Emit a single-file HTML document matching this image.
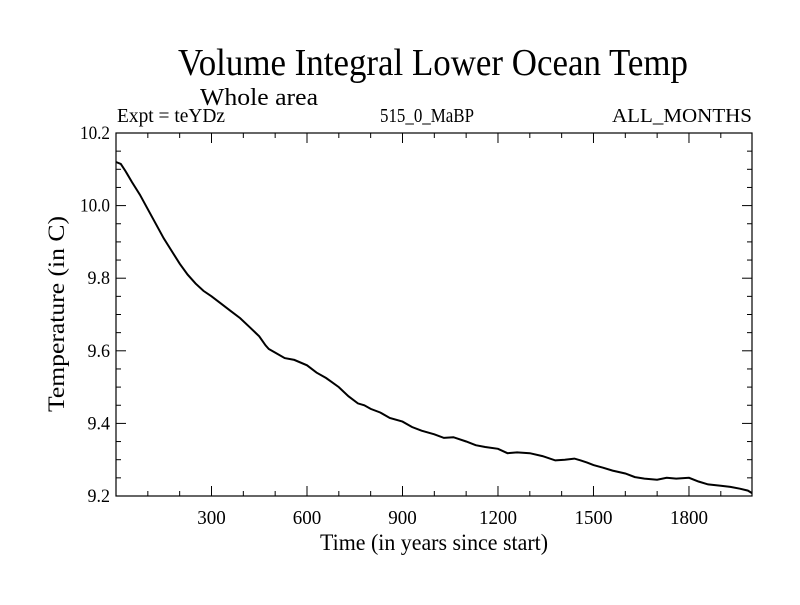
<!DOCTYPE html>
<html><head><meta charset="utf-8"><style>
html,body{margin:0;padding:0;background:#fff;}
svg text{font-family:"Liberation Serif",serif;fill:#000;}
</style></head><body>
<svg id="c" width="800" height="600">
<text x="178" y="75" font-size="38" textLength="510" lengthAdjust="spacingAndGlyphs">Volume Integral Lower Ocean Temp</text>
<text x="200" y="105" font-size="24" textLength="118" lengthAdjust="spacingAndGlyphs">Whole area</text>
<text x="117" y="122" font-size="20" textLength="108" lengthAdjust="spacingAndGlyphs">Expt = teYDz</text>
<text x="380" y="122" font-size="20" textLength="94" lengthAdjust="spacingAndGlyphs">515_0_MaBP</text>
<text x="612" y="122" font-size="20" textLength="140" lengthAdjust="spacingAndGlyphs">ALL_MONTHS</text>
<text x="434" y="550" font-size="23" text-anchor="middle" textLength="228" lengthAdjust="spacingAndGlyphs">Time (in years since start)</text>
<text transform="translate(64,314) rotate(-90)" font-size="23" text-anchor="middle" textLength="196" lengthAdjust="spacingAndGlyphs">Temperature (in C)</text>
<rect x="116" y="133" width="636" height="363" fill="none" stroke="#000" stroke-width="1.2"/>
<g id="ticks"></g>
<path id="line" fill="none" stroke="#000" stroke-width="2"/>
</svg>
<script>
const years=[0,15,30,50,75,100,125,150,175,200,225,250,275,300,330,360,390,420,450,470,480,500,530,560,600,630,660,700,730,760,780,800,830,860,900,930,960,1000,1030,1060,1100,1130,1160,1200,1230,1260,1300,1340,1380,1410,1440,1460,1480,1500,1530,1560,1600,1630,1660,1700,1730,1760,1800,1830,1860,1900,1930,1960,1985,1998];
const temps=[10.12,10.115,10.095,10.065,10.03,9.99,9.95,9.91,9.875,9.84,9.81,9.785,9.765,9.75,9.73,9.71,9.69,9.665,9.64,9.615,9.605,9.595,9.58,9.575,9.56,9.54,9.525,9.5,9.475,9.455,9.45,9.44,9.43,9.415,9.405,9.39,9.38,9.37,9.36,9.362,9.35,9.34,9.335,9.33,9.318,9.32,9.318,9.31,9.298,9.3,9.303,9.298,9.292,9.285,9.278,9.27,9.262,9.252,9.248,9.245,9.25,9.248,9.25,9.24,9.232,9.228,9.225,9.22,9.215,9.208];
const xTicks=[300,600,900,1200,1500,1800];
const yTicks=[9.2,9.4,9.6,9.8,10.0,10.2];
const X=v=>116+(v-0)/1998*636;
const Y=v=>496-(v-9.2)/1.0*363;
const NS='http://www.w3.org/2000/svg';
const svg=document.getElementById('c');const tg=document.getElementById('ticks');
function line(x1,y1,x2,y2){const l=document.createElementNS(NS,'line');l.setAttribute('x1',x1);l.setAttribute('y1',y1);l.setAttribute('x2',x2);l.setAttribute('y2',y2);l.setAttribute('stroke','#000');l.setAttribute('stroke-width','1');


tg.appendChild(l);}
for(let v=100;v<1998;v+=100){const x=X(v);const len=v%300===0?10:5;line(x,496,x,496-len);line(x,133,x,133+len);}
for(let v=9.2;v<=10.201;v+=0.05){const y=Y(v);const major=Math.abs(v*10-Math.round(v*10))<1e-6&&Math.round(v*10)%2===0;const len=major?10:5;line(116,y,116+len,y);line(752,y,752-len,y);}
xTicks.forEach(v=>{const t=document.createElementNS(NS,'text');t.setAttribute('x',X(v));t.setAttribute('y',524);t.setAttribute('font-size','20');t.setAttribute('text-anchor','middle');t.setAttribute('textLength',String(v).length*9.5);t.setAttribute('lengthAdjust','spacingAndGlyphs');t.textContent=v;


svg.appendChild(t);});
yTicks.forEach(v=>{const t=document.createElementNS(NS,'text');t.setAttribute('x',110);t.setAttribute('y',Y(v)+6);t.setAttribute('font-size','19');t.setAttribute('text-anchor','end');t.setAttribute('textLength',v.toFixed(1).length*7.5);t.setAttribute('lengthAdjust','spacingAndGlyphs');t.textContent=v.toFixed(1);


svg.appendChild(t);});
document.getElementById('line').setAttribute('d',years.map((y,i)=>(i?'L':'M')+X(y).toFixed(1)+','+Y(temps[i]).toFixed(1)).join(''));
</script>
</body></html>
